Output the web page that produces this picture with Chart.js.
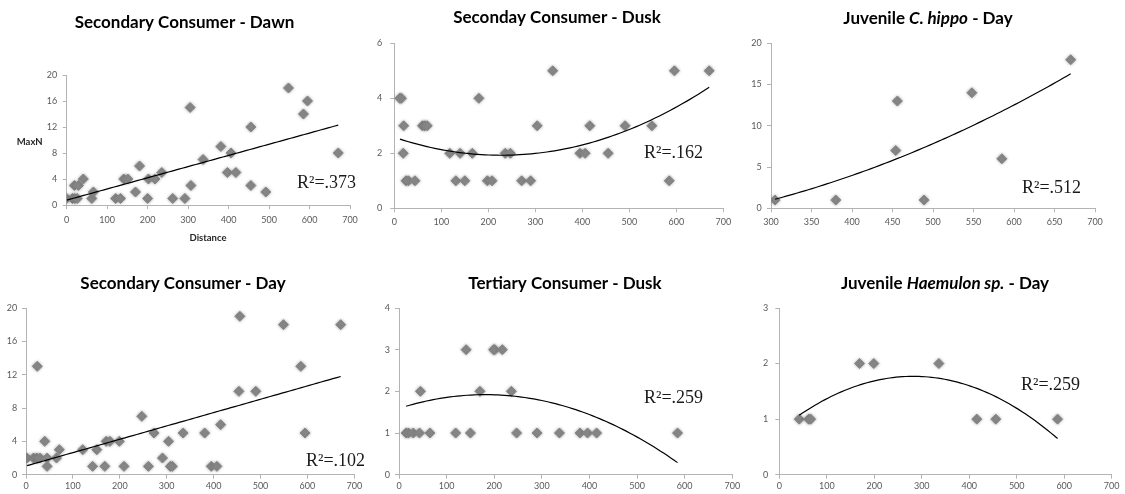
<!DOCTYPE html>
<html>
<head>
<meta charset="utf-8">
<script src="https://cdn.jsdelivr.net/npm/chart.js@4.4.1/dist/chart.umd.min.js"></script>
<style>
  html, body { margin: 0; padding: 0; background: #fff; }
  #wrap { position: relative; width: 1125px; height: 494px; overflow: hidden; background: #fff; }
  #wrap canvas { position: absolute; }
</style>
</head>
<body>
<div id="wrap">
  <canvas id="c1" width="375" height="247" style="left:0px;top:0px"></canvas>
  <canvas id="c2" width="375" height="247" style="left:375px;top:0px"></canvas>
  <canvas id="c3" width="375" height="247" style="left:750px;top:0px"></canvas>
  <canvas id="c4" width="375" height="247" style="left:0px;top:247px"></canvas>
  <canvas id="c5" width="375" height="247" style="left:375px;top:247px"></canvas>
  <canvas id="c6" width="375" height="247" style="left:750px;top:247px"></canvas>
</div>
<script>
// ---- Tick labels ----
const distTicks   = [0, 100, 200, 300, 400, 500, 600, 700];
const hippoXTicks = [300, 350, 400, 450, 500, 550, 600, 650, 700];
const count20by4  = [0, 4, 8, 12, 16, 20];
const count6by2   = [0, 2, 4, 6];
const count20by5  = [0, 5, 10, 15, 20];
const count4by1   = [0, 1, 2, 3, 4];
const count3by1   = [0, 1, 2, 3];

// ---- Secondary Consumer - Dawn ----
const dawnDist = [0, 14, 20, 26, 19, 29, 41, 62, 66, 121, 133, 141, 151, 170, 180, 200, 202, 218, 235, 262, 292, 305, 307, 337, 381, 397, 406, 418, 455, 455, 492, 548, 585, 595, 671];
const dawnMaxN = [1, 1, 1, 1, 3, 3, 4, 1, 2, 1, 1, 4, 4, 2, 6, 1, 4, 4, 5, 1, 1, 15, 3, 7, 9, 5, 8, 5, 12, 3, 2, 18, 14, 16, 8];
const dawnTrend = [0.75, 0.0172];                 // linear fit: c0 + c1*x

// ---- Seconday Consumer - Dusk ----
const duskDist = [12, 15, 20, 19, 25, 30, 44, 60, 65, 70, 118, 131, 140, 150, 166, 180, 198, 208, 236, 247, 271, 290, 304, 337, 395, 406, 416, 455, 491, 548, 585, 596, 670];
const duskMaxN = [4, 4, 3, 2, 1, 1, 1, 3, 3, 3, 2, 1, 2, 1, 2, 4, 1, 1, 2, 2, 1, 1, 3, 5, 2, 2, 3, 2, 3, 3, 1, 5, 5];
const duskTrend = [2.583, -0.005747, 1.2624e-5];  // quadratic fit

// ---- Juvenile C. hippo - Day ----
const hippoDist = [305, 380, 454, 456, 489, 548, 585, 670];
const hippoMaxN = [1, 1, 7, 13, 1, 14, 6, 18];
const hippoTrend = [-3.0264, 0.000728, 4.197e-5];

// ---- Secondary Consumer - Day ----
const dayDist = [2, 16, 23, 30, 24, 40, 45, 45, 65, 71, 121, 142, 151, 168, 171, 179, 199, 209, 247, 261, 273, 291, 304, 308, 312, 335, 381, 395, 407, 415, 454, 456, 490, 549, 586, 595, 671];
const dayMaxN = [2, 2, 2, 2, 13, 4, 2, 1, 2, 3, 3, 1, 3, 1, 4, 4, 4, 1, 7, 1, 5, 2, 4, 1, 1, 5, 5, 1, 1, 6, 10, 19, 10, 18, 13, 5, 18];
const dayTrend = [1.05, 0.0160];

// ---- Tertiary Consumer - Dusk ----
const tertDist = [15, 20, 30, 43, 45, 65, 119, 141, 150, 170, 199, 201, 217, 236, 247, 290, 337, 380, 396, 415, 585];
const tertMaxN = [1, 1, 1, 1, 2, 1, 1, 3, 1, 2, 3, 3, 3, 2, 1, 1, 1, 1, 1, 1, 1];
const tertTrend = [1.5911, 0.0036334, -1.0013e-5];

// ---- Juvenile Haemulon sp. - Day ----
const haemDist = [42, 62, 66, 169, 199, 336, 416, 456, 586];
const haemMaxN = [1, 1, 1, 2, 2, 2, 1, 1, 1];
const haemTrend = [0.8038, 0.0068489, -1.2135e-5];

// ---- styling ----
const AXIS_COLOR = '#b3b3b3';
const TICK_COLOR = '#595959';
const TICK_FONT = { family: 'Lato', size: 9 };
const MARKER_COLOR = '#878787';

function polyAt(c, x) { let y = 0, p = 1; for (const k of c) { y += k * p; p *= x; } return y; }
function trendPoints(coef, xs) {
  const lo = Math.min(...xs), hi = Math.max(...xs), n = 80, pts = [];
  for (let i = 0; i <= n; i++) { const x = lo + (hi - lo) * i / n; pts.push({ x, y: polyAt(coef, x) }); }
  return pts;
}

// yW: width of the y-axis band (left edge of plot), xH: height of the x-axis band
const panels = [
  { id: 'c1', title: [['Secondary Consumer - Dawn', false]], tx: 184.5, ty: 28.3,
    xs: dawnDist, ys: dawnMaxN, trend: dawnTrend, xTicks: distTicks, yTicks: count20by4,
    r2: 'R\u00B2=.373', rx: 297, ry: 188.3,
    top: 75, right: 25, yW: 66.7, xH: 42, xPad: 5.6, yPad: 5.4,
    extra: [ { text: 'MaxN', x: 16.7, y: 145, align: 'left' }, { text: 'Distance', x: 208, y: 240.7, align: 'center' } ] },
  { id: 'c2', title: [['Seconday Consumer - Dusk', false]], tx: 182, ty: 23.3,
    xs: duskDist, ys: duskMaxN, trend: duskTrend, xTicks: distTicks, yTicks: count6by2,
    r2: 'R\u00B2=.162', rx: 269, ry: 157.7,
    top: 43.3, right: 26.7, yW: 19.3, xH: 38.7, xPad: 4.3, yPad: 8 },
  { id: 'c3', title: [['Juvenile ', false], ['C. hippo', true], [' - Day', false]], tx: 178, ty: 24,
    xs: hippoDist, ys: hippoMaxN, trend: hippoTrend, xTicks: hippoXTicks, yTicks: count20by5,
    r2: 'R\u00B2=.512', rx: 272, ry: 193.3,
    top: 43.3, right: 30, yW: 21, xH: 38.7, xPad: 4, yPad: 5.3 },
  { id: 'c4', title: [['Secondary Consumer - Day', false]], tx: 183, ty: 41.7,
    xs: dayDist, ys: dayMaxN, trend: dayTrend, xTicks: distTicks, yTicks: count20by4,
    r2: 'R\u00B2=.102', rx: 306, ry: 219,
    top: 61, right: 20.7, yW: 26, xH: 19.3, xPad: 2.2, yPad: 4.7 },
  { id: 'c5', title: [['Tertiary Consumer - Dusk', false]], tx: 190, ty: 41.7,
    xs: tertDist, ys: tertMaxN, trend: tertTrend, xTicks: distTicks, yTicks: count4by1,
    r2: 'R\u00B2=.259', rx: 269, ry: 156,
    top: 61, right: 17.7, yW: 24, xH: 19.3, xPad: 2.2, yPad: 5 },
  { id: 'c6', title: [['Juvenile ', false], ['Haemulon sp.', true], [' - Day', false]], tx: 195, ty: 41.7,
    xs: haemDist, ys: haemMaxN, trend: haemTrend, xTicks: distTicks, yTicks: count3by1,
    r2: 'R\u00B2=.259', rx: 271, ry: 143.3,
    top: 61, right: 13.3, yW: 29.3, xH: 19.3, xPad: 2.2, yPad: 7 }
];

// soft halo round the diamond markers
const markerHalo = {
  id: 'markerHalo',
  beforeDatasetDraw(chart, args) {
    if (args.index !== 1) return;
    const ctx = chart.ctx;
    ctx.save();
    ctx.shadowColor = 'rgba(90,90,90,0.45)';
    ctx.shadowBlur = 3;
  },
  afterDatasetDraw(chart, args) {
    if (args.index !== 1) return;
    chart.ctx.restore();
  }
};

function makeTextPlugin(p) {
  return {
    id: 'panelText',
    afterDraw(chart) {
      const ctx = chart.ctx;
      ctx.save();
      ctx.fillStyle = '#000';
      ctx.textBaseline = 'alphabetic';
      // title with optional italic runs
      const fontFor = it => (it ? 'italic bold 17px Lato' : 'bold 17px Lato');
      let total = 0;
      for (const [t, it] of p.title) { ctx.font = fontFor(it); total += ctx.measureText(t).width; }
      let x = p.tx - total / 2;
      ctx.textAlign = 'left';
      for (const [t, it] of p.title) { ctx.font = fontFor(it); ctx.fillText(t, x, p.ty); x += ctx.measureText(t).width; }
      // R squared note
      ctx.font = '18px "Liberation Serif", "Times New Roman", serif';
      ctx.fillStyle = '#1a1a1a';
      ctx.fillText(p.r2, p.rx, p.ry);
      // axis captions
      if (p.extra) {
        ctx.font = 'bold 9.5px Lato';
        ctx.fillStyle = '#262626';
        for (const e of p.extra) { ctx.textAlign = e.align; ctx.fillText(e.text, e.x, e.y); }
      }
      ctx.restore();
    }
  };
}

for (const p of panels) {
  const scatter = p.xs.map((x, i) => ({ x, y: p.ys[i] }));
  const xt = p.xTicks, yt = p.yTicks;
  new Chart(document.getElementById(p.id), {
    type: 'scatter',
    data: {
      datasets: [
        { type: 'line', data: trendPoints(p.trend, p.xs), borderColor: '#000', borderWidth: 1.2,
          pointRadius: 0, fill: false, tension: 0 },
        { data: scatter, pointStyle: 'rectRot', pointRadius: 5, backgroundColor: MARKER_COLOR,
          borderColor: MARKER_COLOR, borderWidth: 1 }
      ]
    },
    options: {
      responsive: false,
      animation: false,
      events: [],
      layout: { padding: { left: 0, bottom: 0, top: p.top, right: p.right } },
      plugins: { legend: { display: false }, tooltip: { enabled: false }, title: { display: false } },
      scales: {
        x: {
          type: 'linear', min: xt[0], max: xt[xt.length - 1],
          afterBuildTicks: s => { s.ticks = xt.map(v => ({ value: v })); },
          afterFit: s => { s.height = p.xH; },
          grid: { drawOnChartArea: false, drawTicks: true, tickLength: 4, color: AXIS_COLOR },
          border: { display: true, color: AXIS_COLOR, width: 1 },
          ticks: { padding: p.xPad, font: TICK_FONT, color: TICK_COLOR, maxRotation: 0, autoSkip: false,
                   callback: v => String(v) }
        },
        y: {
          type: 'linear', min: yt[0], max: yt[yt.length - 1],
          afterBuildTicks: s => { s.ticks = yt.map(v => ({ value: v })); },
          afterFit: s => { s.width = p.yW; },
          grid: { drawOnChartArea: false, drawTicks: true, tickLength: 4, color: AXIS_COLOR },
          border: { display: true, color: AXIS_COLOR, width: 1 },
          ticks: { padding: p.yPad, font: TICK_FONT, color: TICK_COLOR, autoSkip: false,
                   callback: v => String(v) }
        }
      }
    },
    plugins: [markerHalo, makeTextPlugin(p)]
  });
}
</script>
</body>
</html>
